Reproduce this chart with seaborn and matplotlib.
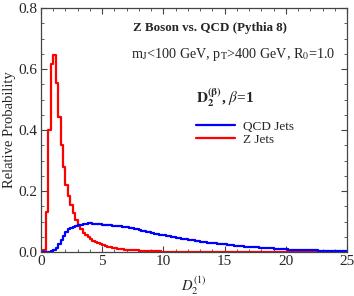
import numpy as np
import pandas as pd
import seaborn as sns
import matplotlib.pyplot as plt
from matplotlib.ticker import MultipleLocator

# bin centres of the D2 histograms (width 0.2 from 0 to 25)
bin_centers = np.arange(0.1, 25, 0.2)

z_jets = [
    0.000, 0.005, 0.132, 0.400, 0.615, 0.646, 0.555, 0.443, 0.352, 0.278,
    0.220, 0.183, 0.154, 0.127, 0.105, 0.088, 0.074, 0.063, 0.055, 0.048,
    0.042, 0.037, 0.033, 0.029, 0.025, 0.022, 0.019, 0.017, 0.015, 0.013,
    0.012, 0.011, 0.010, 0.009, 0.008, 0.007, 0.006, 0.006, 0.005, 0.005,
    0.004, 0.004, 0.003, 0.003, 0.003, 0.002, 0.002, 0.002, 0.002, 0.001,
    0.001, 0.001, 0.001, 0.001, 0.001, 0.001, 0.001, 0.001, 0.001, 0.001,
    0.000, 0.000, 0.000, 0.000, 0.000, 0.000, 0.000, 0.000, 0.000, 0.000,
    0.000, 0.000, 0.000, 0.000, 0.000, 0.000, 0.000, 0.000, 0.000, 0.000,
    0.000, 0.000, 0.000, 0.000, 0.000, 0.000, 0.000, 0.000, 0.000, 0.000,
    0.000, 0.000, 0.000, 0.000, 0.000, 0.000, 0.000, 0.000, 0.000, 0.000,
    0.000, 0.000, 0.000, 0.000, 0.000, 0.000, 0.000, 0.000, 0.000, 0.000,
    0.000, 0.000, 0.000, 0.000, 0.000, 0.000, 0.000, 0.000, 0.000, 0.000,
    0.000, 0.000, 0.000, 0.000, 0.000,
]

qcd_jets = [
    0.000, 0.000, 0.000, 0.001, 0.002, 0.006, 0.014, 0.026, 0.040, 0.052,
    0.065, 0.075, 0.080, 0.083, 0.085, 0.087, 0.089, 0.091, 0.093, 0.095,
    0.094, 0.093, 0.092, 0.092, 0.091, 0.089, 0.090, 0.088, 0.087, 0.086,
    0.086, 0.085, 0.084, 0.083, 0.083, 0.081, 0.080, 0.079, 0.077, 0.075,
    0.072, 0.070, 0.068, 0.066, 0.064, 0.062, 0.060, 0.059, 0.057, 0.056,
    0.055, 0.053, 0.051, 0.050, 0.048, 0.046, 0.045, 0.044, 0.042, 0.041,
    0.040, 0.039, 0.038, 0.037, 0.036, 0.034, 0.033, 0.032, 0.031, 0.030,
    0.029, 0.028, 0.027, 0.027, 0.026, 0.025, 0.024, 0.023, 0.022, 0.021,
    0.021, 0.020, 0.019, 0.018, 0.018, 0.017, 0.016, 0.016, 0.015, 0.014,
    0.014, 0.013, 0.013, 0.012, 0.012, 0.011, 0.011, 0.010, 0.010, 0.009,
    0.009, 0.008, 0.008, 0.008, 0.007, 0.007, 0.007, 0.006, 0.006, 0.006,
    0.005, 0.005, 0.005, 0.004, 0.004, 0.004, 0.004, 0.003, 0.003, 0.003,
    0.003, 0.003, 0.002, 0.002, 0.002,
]

sns.set_style("ticks")
plt.rcParams['font.family'] = ['Liberation Serif', 'DejaVu Serif']
plt.rcParams['mathtext.fontset'] = 'stix'

df = pd.DataFrame({
    'd2': np.concatenate([bin_centers, bin_centers]),
    'prob': np.concatenate([qcd_jets, z_jets]),
    'sample': ['QCD Jets'] * len(bin_centers) + ['Z Jets'] * len(bin_centers),
})

fig = plt.figure(figsize=(3.54, 2.96), dpi=100)
ax = fig.add_axes([41 / 354, 1 - 252 / 296, 306 / 354, 244 / 296])

sns.histplot(data=df, x='d2', weights='prob', hue='sample',
             binwidth=0.2, binrange=(0, 25),
             element='step', fill=False, stat='count', linewidth=1.6,
             palette={'QCD Jets': '#0000ff', 'Z Jets': '#ff0000'},
             hue_order=['QCD Jets', 'Z Jets'], legend=False, ax=ax)

ax.set_xlim(0, 25)
ax.set_ylim(0, 0.8)
ax.xaxis.set_major_locator(MultipleLocator(5))
ax.xaxis.set_minor_locator(MultipleLocator(1))
ax.yaxis.set_major_locator(MultipleLocator(0.2))
ax.yaxis.set_minor_locator(MultipleLocator(0.05))
ax.yaxis.set_major_formatter(plt.FuncFormatter(lambda v, p: f'{v:.1f}'))
ax.tick_params(which='both', direction='in', top=True, right=True,
               labelsize=11, color='#444444', pad=2.5)
ax.tick_params(which='major', length=4, width=0.8)
ax.tick_params(which='minor', length=2, width=0.6)
for s in ax.spines.values():
    s.set_color('#444444')
    s.set_linewidth(0.9)

ax.set_xlabel(r'$D_2^{(1)}$', fontsize=10.5, labelpad=4)
ax.set_ylabel('Relative Probability', fontsize=10.5, labelpad=2)

ax.text(0.30, 0.92, 'Z Boson vs. QCD (Pythia 8)', transform=ax.transAxes,
        fontsize=9.4, fontweight='bold', va='center', ha='left')
ax.text(0.295, 0.81, r'm$_\mathrm{J}$<100 GeV, p$_\mathrm{T}$>400 GeV, R$_0$=1.0',
        transform=ax.transAxes, fontsize=10.2, va='center', ha='left')

blue_line, = ax.plot([], [], color='#0000ff', lw=1.6)
red_line, = ax.plot([], [], color='#ff0000', lw=1.6)
leg = ax.legend([blue_line, red_line], ['QCD Jets', 'Z Jets'],
                title=r'$\mathbf{D_2^{(\beta)}}$, $\beta$=1',
                loc='upper left', bbox_to_anchor=(0.475, 0.715),
                frameon=False, fontsize=9.5, handlelength=3.0,
                labelspacing=0.05, borderpad=0.2, handletextpad=0.6)
leg.get_title().set_fontweight('bold')
leg.get_title().set_fontsize(11)
leg._legend_box.align = 'left'
leg._legend_box.sep = 8

fig.savefig('out.png', dpi=100)
